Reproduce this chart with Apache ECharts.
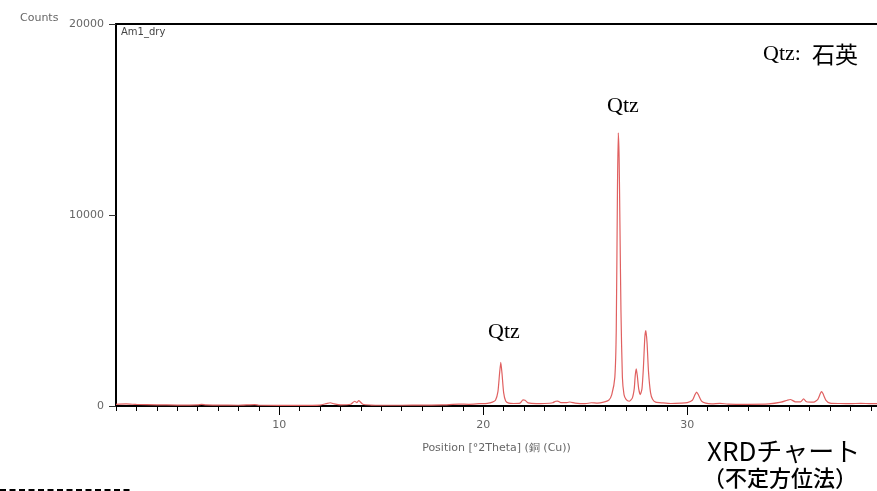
<!DOCTYPE html>
<html>
<head>
<meta charset="utf-8">
<script src="https://cdn.jsdelivr.net/npm/echarts@6/dist/echarts.min.js"></script>
<style>
  html, body { margin: 0; padding: 0; background: #fff; }
  #chart { width: 877px; height: 491px; }
</style>
</head>
<body>
<div id="chart"></div>
<script>
// 2theta positions (deg) and intensity (counts)
const theta = [
  2.0, 2.5, 3.0, 4.0, 5.0, 6.0, 6.2, 6.4, 7.0, 8.0, 8.8, 9.0, 10.0, 11.0,
  12.0, 12.3, 12.5, 12.7, 13.0, 13.5, 13.7, 13.8, 13.9, 14.1, 14.5, 15.0,
  16.0, 17.0, 18.0, 18.8, 19.3, 19.8, 20.2, 20.45, 20.6, 20.72, 20.8, 20.86,
  20.92, 21.0, 21.1, 21.25, 21.5, 21.8, 21.95, 22.05, 22.2, 22.6, 23.0, 23.4,
  23.55, 23.65, 23.8, 24.1, 24.25, 24.5, 25.0, 25.3, 25.6, 25.9, 26.15,
  26.3, 26.45, 26.52, 26.58, 26.62, 26.66, 26.7, 26.75, 26.82, 26.9, 27.0,
  27.15, 27.3, 27.4, 27.45, 27.5, 27.55, 27.62, 27.7, 27.78, 27.85, 27.92,
  27.97, 28.03, 28.1, 28.2, 28.3, 28.45, 28.8, 29.2, 29.7, 30.0, 30.25,
  30.38, 30.46, 30.54, 30.7, 30.9, 31.2, 31.6, 32.0, 33.0, 34.0, 34.6,
  34.9, 35.05, 35.3, 35.55, 35.7, 35.85, 36.2, 36.4, 36.52, 36.58, 36.65,
  36.8, 37.0, 37.5, 38.0, 38.5, 39.0, 39.5
];
const counts = [
  90, 110, 80, 60, 50, 60, 90, 55, 45, 40, 70, 40, 35, 35,
  50, 120, 170, 110, 60, 90, 250, 180, 280, 90, 50, 40,
  40, 45, 55, 100, 90, 120, 140, 200, 300, 750, 1700, 2290,
  1700, 700, 260, 150, 130, 150, 320, 300, 160, 120, 130, 170,
  250, 260, 180, 180, 210, 150, 120, 170, 150, 200, 300,
  600, 1500, 4000, 11500, 14300, 13000, 9500, 5000, 1500, 600, 350,
  250, 400, 900, 1600, 1950, 1600, 900, 600, 900, 2000, 3600,
  3950, 3300, 1800, 700, 350, 200, 160, 130, 150, 180, 300,
  600, 730, 600, 260, 150, 110, 140, 100, 90, 110, 200,
  300, 340, 220, 220, 370, 220, 200, 350, 650, 760, 650,
  300, 150, 130, 120, 140, 120, 130
];
const xMajorTicks = [10, 20, 30];

const chart = echarts.init(document.getElementById('chart'));

const labelStyle = { color: '#666', fontSize: 11, fontFamily: 'DejaVu Sans' };
const plotRect = { left: 116, right: 0, top: 24, bottom: 85 };

const option = {
    animation: false,
    grid: [plotRect, plotRect],
    xAxis: [
        {
            // frame bottom + minor ticks every 1 degree
            type: 'value',
            gridIndex: 0,
            min: 2,
            max: 39.3,
            interval: 1,
            position: 'bottom',
            axisLine: { onZero: false, lineStyle: { color: '#000', width: 2 } },
            axisTick: { show: true, inside: false, length: 5, lineStyle: { color: '#000', width: 1 } },
            axisLabel: { show: false },
            splitLine: { show: false }
        },
        {
            // top frame line
            type: 'value',
            gridIndex: 0,
            min: 2,
            max: 39.3,
            position: 'top',
            axisLine: { onZero: false, lineStyle: { color: '#000', width: 2 } },
            axisTick: { show: false },
            axisLabel: { show: false },
            splitLine: { show: false }
        },
        {
            // major ticks and labels (line kept on so ticks render)
            type: 'value',
            gridIndex: 1,
            min: 2,
            max: 39.3,
            position: 'bottom',
            name: 'Position [°2Theta] (銅 (Cu))',
            nameLocation: 'middle',
            nameGap: 37,
            nameTextStyle: { color: '#666', fontSize: 11, fontFamily: 'DejaVu Sans' },
            axisLine: { show: true, onZero: false, lineStyle: { color: '#000', width: 2 } },
            axisTick: { show: true, inside: false, customValues: xMajorTicks, length: 9, lineStyle: { color: '#000', width: 1 } },
            axisLabel: { customValues: xMajorTicks, margin: 14, ...labelStyle },
            splitLine: { show: false }
        }
    ],
    yAxis: [
        {
            type: 'value',
            gridIndex: 0,
            min: 0,
            max: 20000,
            interval: 10000,
            axisLine: { show: true, lineStyle: { color: '#000', width: 2 } },
            axisTick: { show: true, length: 7, lineStyle: { color: '#333' } },
            axisLabel: { margin: 12, formatter: v => String(v), ...labelStyle },
            splitLine: { show: false }
        },
        {
            type: 'value',
            gridIndex: 1,
            min: 0,
            max: 20000,
            show: false
        }
    ],
    series: [{
        type: 'line',
        xAxisIndex: 0,
        yAxisIndex: 0,
        data: theta.map((t, i) => [t, counts[i]]),
        showSymbol: false,
        smooth: 0.2,
        lineStyle: { color: '#e06060', width: 1.2 },
        z: 1
    }],
    graphic: [
        { type: 'text', left: 20, top: 13, style: { text: 'Counts', fill: '#666', font: '11px "DejaVu Sans"' } },
        { type: 'text', left: 121, top: 27, style: { text: 'Am1_dry', fill: '#444', font: '10px "DejaVu Sans"' } },
        { type: 'text', left: 607, top: 95, style: { text: 'Qtz', fill: '#000', font: '22px "Liberation Serif"' } },
        { type: 'text', left: 488, top: 321, style: { text: 'Qtz', fill: '#000', font: '22px "Liberation Serif"' } },
        { type: 'text', left: 763, top: 43, style: { text: 'Qtz:', fill: '#000', font: '22px "Liberation Serif"' } },
        { type: 'text', left: 812, top: 43, style: { text: '石英', fill: '#000', font: '23px "Noto Sans CJK JP"' } },
        { type: 'text', left: 707, top: 438, style: { text: 'XRDチャート', fill: '#000', font: '26px "Noto Sans CJK JP"' } },
        { type: 'text', left: 703, top: 467, style: { text: '（不定方位法）', fill: '#000', font: '500 22px "Noto Sans CJK JP"' } },
        {
            type: 'line',
            shape: { x1: 0, y1: 490, x2: 133, y2: 490 },
            style: { stroke: '#000', lineWidth: 2, lineDash: [6, 3.5] }
        }
    ]
};

chart.setOption(option);
</script>
</body>
</html>
